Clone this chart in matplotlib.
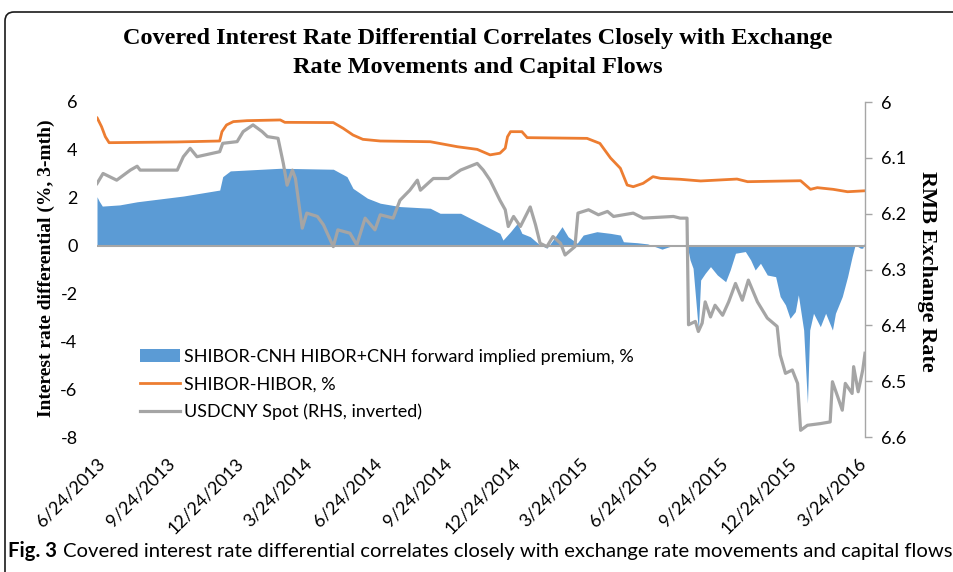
import matplotlib
matplotlib.use("Agg")
import matplotlib.pyplot as plt
import pandas as pd
from matplotlib.patches import FancyBboxPatch, Patch
from matplotlib.lines import Line2D
from matplotlib.transforms import IdentityTransform

plt.rcParams['axes.unicode_minus'] = False

# ---------------- data ----------------
title_lines = ["Covered Interest Rate Differential Correlates Closely with Exchange",
               "Rate Movements and Capital Flows"]
ylabel_left = "Interest rate differential (%, 3-mth)"
ylabel_right = "RMB Exchange Rate"
caption_bold = "Fig. 3"
caption_text = "Covered interest rate differential correlates closely with exchange rate movements and capital flows"

series_names = ["SHIBOR-CNH HIBOR+CNH forward implied premium, %",
                "SHIBOR-HIBOR, %",
                "USDCNY Spot (RHS, inverted)"]

xtick_labels = ["6/24/2013", "9/24/2013", "12/24/2013", "3/24/2014", "6/24/2014",
                "9/24/2014", "12/24/2014", "3/24/2015", "6/24/2015", "9/24/2015",
                "12/24/2015", "3/24/2016"]
x_start = "2013-06-24"
x_end = "2016-04-03"

left_ticks = [-8, -6, -4, -2, 0, 2, 4, 6]
right_ticks = [6.0, 6.1, 6.2, 6.3, 6.4, 6.5, 6.6]

premium_dates = ["2013-06-24", "2013-06-27", "2013-07-01", "2013-07-24", "2013-08-16", "2013-10-16",
                 "2013-12-03", "2013-12-07", "2013-12-17", "2014-02-21", "2014-05-02", "2014-05-20",
                 "2014-05-28", "2014-06-16", "2014-07-03", "2014-07-29", "2014-09-07", "2014-09-20",
                 "2014-10-17", "2014-11-12", "2014-12-08", "2014-12-12", "2014-12-22", "2014-12-31",
                 "2015-01-06", "2015-01-17", "2015-01-28", "2015-02-08", "2015-02-16", "2015-02-28",
                 "2015-03-08", "2015-03-20", "2015-03-28", "2015-04-15", "2015-05-03", "2015-05-16",
                 "2015-05-20", "2015-06-07", "2015-06-21", "2015-07-10", "2015-07-25", "2015-08-12",
                 "2015-08-16", "2015-08-20", "2015-08-27", "2015-08-30", "2015-09-05", "2015-09-12",
                 "2015-09-21", "2015-10-02", "2015-10-08", "2015-10-15", "2015-10-28", "2015-11-04",
                 "2015-11-10", "2015-11-17", "2015-11-26", "2015-12-07", "2015-12-13", "2015-12-20",
                 "2015-12-26", "2016-01-02", "2016-01-06", "2016-01-13", "2016-01-18", "2016-01-21",
                 "2016-01-26", "2016-02-04", "2016-02-11", "2016-02-20", "2016-02-24", "2016-03-04",
                 "2016-03-11", "2016-03-17", "2016-03-21", "2016-03-28", "2016-03-31", "2016-04-03"]
premium_vals = [2.04, 1.85, 1.65, 1.70, 1.83, 2.07,
                2.32, 2.88, 3.12, 3.23, 3.19, 2.88,
                2.39, 1.98, 1.77, 1.63, 1.56, 1.35,
                1.35, 0.93, 0.51, 0.23, 0.58, 0.93,
                0.51, 0.37, 0.07, -0.11, 0.23, 0.79,
                0.37, 0.10, 0.44, 0.58, 0.51, 0.44,
                0.16, 0.12, 0.07, -0.15, 0.01, 0.03,
                -0.60, -0.95, -3.53, -1.44, -1.16, -0.88,
                -1.23, -1.51, -1.02, -0.32, -0.25, -0.60,
                -1.02, -0.74, -1.23, -1.30, -2.13, -2.48,
                -3.04, -2.76, -2.06, -3.53, -6.59, -3.53,
                -2.83, -3.39, -2.83, -3.53, -2.83, -2.13,
                -1.30, -0.46, 0.03, -0.11, -0.11, 0.16]

shibor_hibor_dates = ["2013-06-24", "2013-06-30", "2013-07-05", "2013-07-10", "2013-10-08", "2013-12-03",
                      "2013-12-06", "2013-12-12", "2013-12-21", "2014-01-08", "2014-02-21", "2014-02-27",
                      "2014-05-02", "2014-05-15", "2014-05-28", "2014-06-10", "2014-07-03", "2014-09-07",
                      "2014-10-13", "2014-11-08", "2014-11-25", "2014-12-08", "2014-12-15", "2014-12-18",
                      "2014-12-22", "2015-01-06", "2015-01-13", "2015-04-02", "2015-04-19", "2015-05-03",
                      "2015-05-16", "2015-05-25", "2015-06-02", "2015-06-15", "2015-06-28", "2015-07-08",
                      "2015-08-03", "2015-08-30", "2015-10-17", "2015-10-31", "2016-01-09", "2016-01-22",
                      "2016-01-31", "2016-02-21", "2016-03-11", "2016-04-03"]
shibor_hibor_vals = [5.35, 4.97, 4.55, 4.30, 4.33, 4.37,
                     4.76, 5.04, 5.18, 5.22, 5.25, 5.15,
                     5.14, 4.90, 4.62, 4.44, 4.37, 4.34,
                     4.13, 4.02, 3.79, 3.86, 4.07, 4.55,
                     4.76, 4.76, 4.51, 4.48, 4.27, 3.66,
                     3.23, 2.53, 2.46, 2.60, 2.88, 2.81,
                     2.77, 2.70, 2.78, 2.67, 2.71, 2.35,
                     2.42, 2.35, 2.25, 2.29]

usdcny_dates = ["2013-06-24", "2013-07-02", "2013-07-20", "2013-08-07", "2013-08-16", "2013-08-20",
                "2013-10-08", "2013-10-16", "2013-10-25", "2013-11-03", "2013-12-03", "2013-12-07",
                "2013-12-26", "2014-01-03", "2014-01-16", "2014-01-28", "2014-02-04", "2014-02-18",
                "2014-02-25", "2014-03-02", "2014-03-09", "2014-03-13", "2014-03-22", "2014-03-28",
                "2014-04-11", "2014-04-19", "2014-05-02", "2014-05-08", "2014-05-24", "2014-06-02",
                "2014-06-13", "2014-06-26", "2014-07-03", "2014-07-20", "2014-07-29", "2014-08-11",
                "2014-08-21", "2014-08-25", "2014-09-11", "2014-10-01", "2014-10-17", "2014-11-08",
                "2014-11-16", "2014-11-25", "2014-12-08", "2014-12-15", "2014-12-19", "2014-12-26",
                "2015-01-04", "2015-01-17", "2015-01-24", "2015-01-30", "2015-02-08", "2015-02-16",
                "2015-02-26", "2015-03-04", "2015-03-17", "2015-03-21", "2015-04-04", "2015-04-17",
                "2015-04-29", "2015-05-07", "2015-06-02", "2015-06-15", "2015-07-25", "2015-08-03",
                "2015-08-12", "2015-08-14", "2015-08-23", "2015-08-27", "2015-09-01", "2015-09-05",
                "2015-09-12", "2015-09-18", "2015-09-28", "2015-10-06", "2015-10-15", "2015-10-24",
                "2015-11-01", "2015-11-13", "2015-11-26", "2015-12-09", "2015-12-13", "2015-12-20",
                "2015-12-29", "2016-01-05", "2016-01-09", "2016-01-18", "2016-02-04", "2016-02-17",
                "2016-02-20", "2016-02-27", "2016-03-04", "2016-03-08", "2016-03-17", "2016-03-19",
                "2016-03-25", "2016-03-31", "2016-04-03"]
usdcny_vals = [6.146, 6.128, 6.140, 6.122, 6.115, 6.122,
               6.122, 6.098, 6.083, 6.098, 6.089, 6.074,
               6.071, 6.053, 6.041, 6.053, 6.062, 6.065,
               6.110, 6.149, 6.122, 6.137, 6.226, 6.199,
               6.205, 6.220, 6.259, 6.229, 6.235, 6.256,
               6.208, 6.229, 6.202, 6.208, 6.176, 6.158,
               6.140, 6.158, 6.137, 6.137, 6.122, 6.110,
               6.122, 6.140, 6.176, 6.193, 6.223, 6.205,
               6.223, 6.188, 6.220, 6.253, 6.259, 6.241,
               6.253, 6.274, 6.259, 6.199, 6.193, 6.202,
               6.196, 6.205, 6.199, 6.208, 6.205, 6.208,
               6.208, 6.399, 6.393, 6.411, 6.396, 6.358,
               6.385, 6.364, 6.382, 6.358, 6.325, 6.355,
               6.319, 6.358, 6.387, 6.402, 6.453, 6.486,
               6.480, 6.504, 6.588, 6.579, 6.576, 6.573,
               6.501, 6.528, 6.552, 6.504, 6.522, 6.474,
               6.519, 6.480, 6.450]

# ---------------- styles ----------------
C_BLUE = "#5B9BD5"
C_ORANGE = "#ED7D31"
C_GRAY = "#A5A5A5"
C_AXIS = "#A6A6A6"
SANS = "Lato"
SERIF = "Liberation Serif"
TICK_SIZE = 13

W, H = 954, 572
fig = plt.figure(figsize=(W / 100, H / 100), dpi=100)


def fx(px):
    return px / W


def fy(py):
    return 1 - py / H


# outer rounded frame (pixel coordinates)
frame = FancyBboxPatch((5, -40), 1000, H - 12 + 40,
                       boxstyle="round,pad=0,rounding_size=9",
                       transform=IdentityTransform(), fill=False,
                       ec="#1a1a1a", lw=1.2)
fig.add_artist(frame)

ax = fig.add_axes([fx(97), fy(437), fx(865) - fx(97), fy(102) - fy(437)])
ax.set_facecolor("none")

pd_dates = pd.to_datetime(premium_dates)
ax.fill_between(pd_dates, premium_vals, 0, color=C_BLUE, lw=0, zorder=1)
ax.axhline(0, color=C_AXIS, lw=1.5, zorder=2)
ax.plot(pd.to_datetime(shibor_hibor_dates), shibor_hibor_vals, color=C_ORANGE, lw=2.0,
        zorder=3, solid_capstyle="round")

ax.set_ylim(left_ticks[0], left_ticks[-1])
ax.set_yticks(left_ticks)
ax.set_yticklabels([str(v) for v in left_ticks])
ax.set_xlim(pd.Timestamp(x_start), pd.Timestamp(x_end))
xt = [pd.Timestamp(pd.to_datetime(s, format="%m/%d/%Y")) for s in xtick_labels]
ax.set_xticks(xt)
ax.set_xticklabels(xtick_labels, rotation=45, ha="right", rotation_mode="anchor",
                   fontfamily=SANS, fontsize=TICK_SIZE)
ax.tick_params(axis="x", length=0, pad=13)
ax.tick_params(axis="y", length=0, pad=14, labelsize=TICK_SIZE)
for lab in ax.get_yticklabels():
    lab.set_fontfamily(SANS)
for s in ax.spines.values():
    s.set_visible(False)

ax2 = ax.twinx()
ax2.plot(pd.to_datetime(usdcny_dates), usdcny_vals, color=C_GRAY, lw=2.3, zorder=4,
         solid_joinstyle="round")
ax2.set_ylim(right_ticks[-1], right_ticks[0])
ax2.set_yticks(right_ticks)
ax2.set_yticklabels(["%g" % v for v in right_ticks], fontfamily=SANS, fontsize=TICK_SIZE)
ax2.tick_params(axis="y", direction="out", length=5, width=1, color=C_AXIS, pad=6.5)
for k, s in ax2.spines.items():
    s.set_visible(k == "right")
ax2.spines["right"].set_color(C_AXIS)
ax2.spines["right"].set_linewidth(1.0)
ax2.set_xlim(pd.Timestamp(x_start), pd.Timestamp(x_end))

handles = [Patch(facecolor=C_BLUE, edgecolor="none"),
           Line2D([], [], color=C_ORANGE, lw=2.0),
           Line2D([], [], color=C_GRAY, lw=2.3)]
ax2.legend(handles, series_names, loc="upper left",
           bbox_to_anchor=(fx(140), fy(349)), bbox_transform=fig.transFigure,
           frameon=False, borderpad=0, borderaxespad=0, handlelength=2.2,
           handletextpad=0.22, labelspacing=0.62,
           prop={"family": SANS, "size": TICK_SIZE})

# title
fig.text(fx(478), fy(44), title_lines[0], ha="center", va="baseline",
         fontfamily=SERIF, fontweight="bold", fontsize=17.5)
fig.text(fx(478), fy(73), title_lines[1], ha="center", va="baseline",
         fontfamily=SERIF, fontweight="bold", fontsize=17.5)

# axis titles
fig.text(fx(46), fy(268), ylabel_left, rotation=90, ha="center", va="center",
         fontfamily=SERIF, fontweight="bold", fontsize=14)
fig.text(fx(927), fy(271), ylabel_right, rotation=-90, ha="center", va="center",
         fontfamily=SERIF, fontweight="bold", fontsize=16)

# caption, fitted to the reference width
cap_size = 13
t1 = fig.text(fx(8), fy(557), caption_bold, ha="left", va="baseline",
              fontfamily=SANS, fontweight="bold", fontsize=cap_size)
t2 = fig.text(fx(8), fy(557), caption_text, ha="left", va="baseline",
              fontfamily=SANS, fontsize=cap_size)
fig.canvas.draw()
r = fig.canvas.get_renderer()
w1 = t1.get_window_extent(r).width
w2 = t2.get_window_extent(r).width
gap = 0.3 * cap_size * 100 / 72
scale = 942 / (w1 + gap + w2)
new_size = cap_size * scale
t1.set_fontsize(new_size)
t2.set_fontsize(new_size)
fig.canvas.draw()
w1 = t1.get_window_extent(r).width
t2.set_position((fx(8 + w1 + 0.3 * new_size * 100 / 72), fy(557)))

fig.savefig("out.png", dpi=100)
